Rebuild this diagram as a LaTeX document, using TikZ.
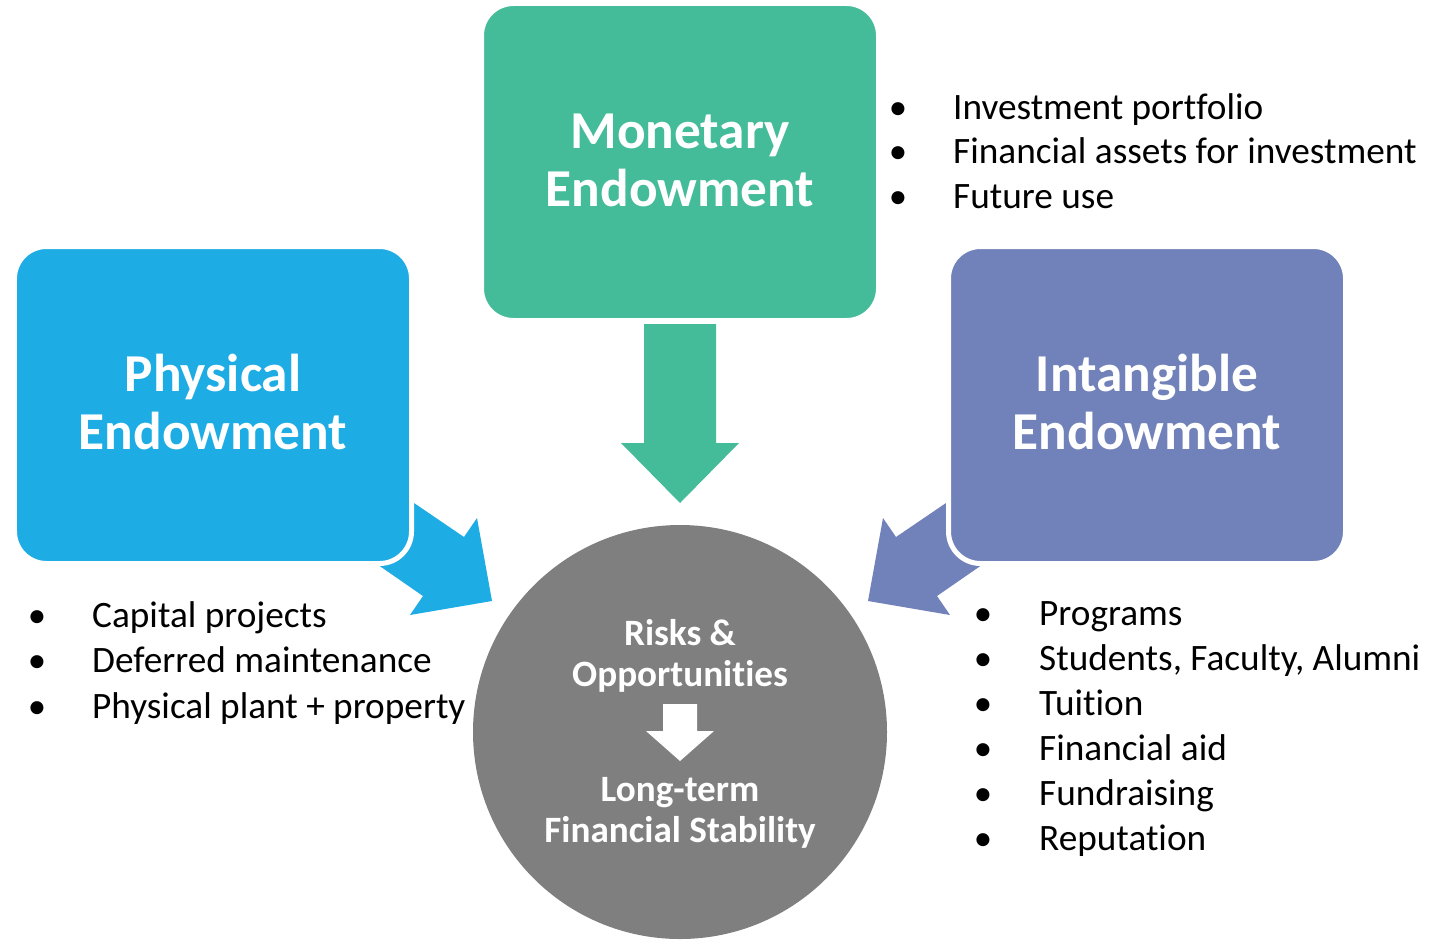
\documentclass[tikz,border=0pt]{standalone}
\usepackage{fontspec}
\setmainfont[Ligatures={NoCommon,NoRequired,NoContextual},RawFeature={-liga;-clig;-dlig}]{Carlito}
\definecolor{mgreen}{RGB}{68,187,153}
\definecolor{pblue}{RGB}{29,172,227}
\definecolor{ipurple}{RGB}{113,129,185}
\definecolor{cgray}{RGB}{127,127,127}
\begin{document}
\begin{tikzpicture}[x=1bp,y=-1bp,
  box/.style={rectangle, rounded corners=32bp, draw=white, line width=5bp,
    minimum width=397bp, minimum height=317bp, inner sep=0pt},
  title/.style={anchor=base, text=white, inner sep=0pt,
    font=\fontsize{53.5}{58}\selectfont\bfseries},
  ctext/.style={anchor=base, text=white, inner sep=0pt,
    font=\fontsize{37.3}{42}\selectfont\bfseries},
  item/.style={anchor=base west, inner sep=0pt, font=\fontsize{37.4}{45}\selectfont},
  bul/.style={anchor=base, inner sep=0pt, font=\fontsize{37}{45}\selectfont},
]
\useasboundingbox (0,0) rectangle (1448,939);

% block arrows (behind boxes)
\fill[mgreen] (644,324) -- (716,324) -- (716,443) -- (739,443) -- (680,503)
  -- (621,443) -- (644,443) -- cycle;
\fill[pblue] (364,469) -- (464,537) -- (477,518) -- (492,601) -- (410,615)
  -- (423,596) -- (332,533) -- cycle;
\fill[ipurple] (996,469) -- (896,537) -- (883,518) -- (868,601) -- (950,615)
  -- (937,596) -- (1028,533) -- cycle;

% boxes
\node[box, fill=mgreen] (mon) at (680,162) {};
\node[box, fill=pblue] (phy) at (213,405) {};
\node[box, fill=ipurple] (int) at (1147,405) {};

\node[title] (mon1) at (680,148) {Monetary};
\node[title] (mon2) at (680,206) {Endowment};
\node[title] (phy1) at (213,391) {Physical};
\node[title] (phy2) at (213,449) {Endowment};
\node[title] (int1) at (1147,391) {Intangible};
\node[title] (int2) at (1147,449) {Endowment};

% central circle
\node[circle, fill=cgray, minimum size=414bp, inner sep=0pt] (c) at (680,732) {};
\node[ctext] (c1) at (680,645) {Risks \&};
\node[ctext] (c2) at (680,686) {Opportunities};
\fill[white] (663,704) -- (697,704) -- (697,731) -- (714,731) -- (680,761)
  -- (646,731) -- (663,731) -- cycle;
\node[ctext] (c3) at (680,801) {Long-term};
\node[ctext] (c4) at (680,842) {Financial Stability};

% top list
\node[bul] (tb1) at (898,119) {•};
\node[bul] (tb2) at (898,163) {•};
\node[bul] (tb3) at (898,208) {•};
\node[item] (t1) at (953,119) {Investment portfolio};
\node[item] (t2) at (953,163) {Financial assets for investment};
\node[item] (t3) at (953,208) {Future use};

% left list
\node[bul] (lb1) at (37,627) {•};
\node[bul] (lb2) at (37,672) {•};
\node[bul] (lb3) at (37,718) {•};
\node[item] (l1) at (92,627) {Capital projects};
\node[item] (l2) at (92,672) {Deferred maintenance};
\node[item] (l3) at (92,718) {Physical plant + property};

% right list
\node[bul] (rb1) at (983,625) {•};
\node[bul] (rb2) at (983,670) {•};
\node[bul] (rb3) at (983,715) {•};
\node[bul] (rb4) at (983,760) {•};
\node[bul] (rb5) at (983,805) {•};
\node[bul] (rb6) at (983,850) {•};
\node[item] (r1) at (1039,625) {Programs};
\node[item] (r2) at (1039,670) {Students, Faculty, Alumni};
\node[item] (r3) at (1039,715) {Tuition};
\node[item] (r4) at (1039,760) {Financial aid};
\node[item] (r5) at (1039,805) {Fundraising};
\node[item] (r6) at (1039,850) {Reputation};
\end{tikzpicture}
\end{document}
